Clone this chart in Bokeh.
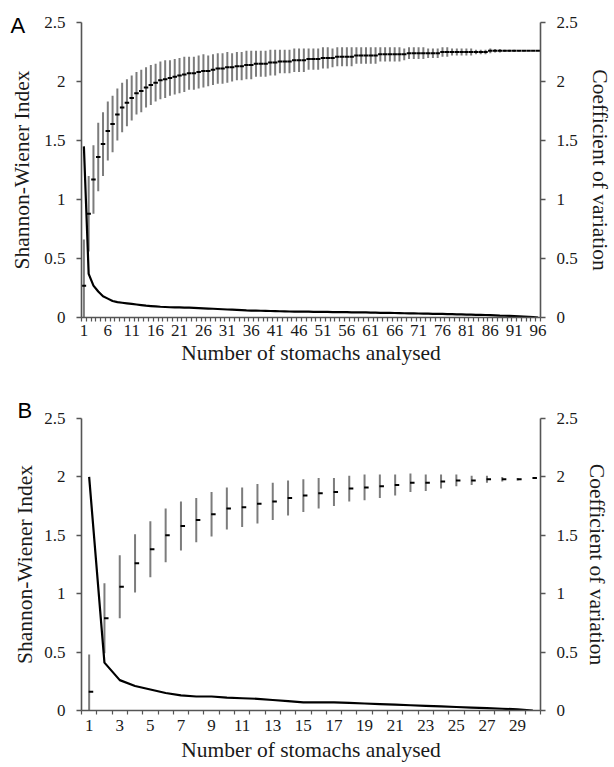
from bokeh.plotting import figure
from bokeh.models import LinearAxis, FixedTicker, Title, Range1d
from bokeh.layouts import column
from bokeh.transform import dodge
from bokeh.embed import file_html
from bokeh.resources import INLINE

# ---------------- Panel A data ----------------
a_stomachs = list(range(1, 97))
a_mean = [0.27, 0.88, 1.17, 1.36, 1.47, 1.58, 1.64, 1.72, 1.78, 1.82,
          1.86, 1.90, 1.92, 1.95, 1.97, 1.99, 2.01, 2.02, 2.03, 2.04,
          2.05, 2.06, 2.07, 2.07, 2.08, 2.09, 2.09, 2.10, 2.11, 2.11,
          2.12, 2.12, 2.13, 2.13, 2.14, 2.14, 2.15, 2.15, 2.15, 2.16,
          2.16, 2.17, 2.17, 2.17, 2.18, 2.18, 2.18, 2.19, 2.19, 2.19,
          2.20, 2.20, 2.20, 2.21, 2.21, 2.21, 2.21, 2.22, 2.22, 2.22,
          2.22, 2.22, 2.23, 2.23, 2.23, 2.23, 2.23, 2.23, 2.24, 2.24,
          2.24, 2.24, 2.24, 2.24, 2.24, 2.25, 2.25, 2.25, 2.25, 2.25,
          2.25, 2.25, 2.25, 2.25, 2.25, 2.26, 2.26, 2.26, 2.26, 2.26,
          2.26, 2.26, 2.26, 2.26, 2.26, 2.26]
a_sd = [0.39, 0.32, 0.29, 0.29, 0.27, 0.25, 0.24, 0.22, 0.21, 0.20,
        0.19, 0.18, 0.18, 0.17, 0.17, 0.16, 0.16, 0.16, 0.15, 0.15,
        0.15, 0.15, 0.14, 0.14, 0.14, 0.14, 0.13, 0.13, 0.13, 0.13,
        0.13, 0.12, 0.12, 0.12, 0.12, 0.12, 0.11, 0.11, 0.11, 0.11,
        0.11, 0.10, 0.10, 0.10, 0.10, 0.10, 0.10, 0.09, 0.09, 0.09,
        0.09, 0.09, 0.08, 0.08, 0.08, 0.08, 0.08, 0.07, 0.07, 0.07,
        0.07, 0.07, 0.06, 0.06, 0.06, 0.06, 0.06, 0.05, 0.05, 0.05,
        0.05, 0.05, 0.04, 0.04, 0.04, 0.04, 0.04, 0.03, 0.03, 0.03,
        0.03, 0.03, 0.02, 0.02, 0.02, 0.02, 0.015, 0.015, 0.01, 0.01,
        0.01, 0.005, 0.005, 0.0, 0.0, 0.0]
a_cv = [1.45, 0.37, 0.27, 0.22, 0.18, 0.16, 0.14, 0.13, 0.125, 0.12,
        0.115, 0.11, 0.105, 0.10, 0.097, 0.094, 0.091, 0.089, 0.087, 0.086,
        0.085, 0.084, 0.083, 0.082, 0.080, 0.078, 0.076, 0.074, 0.072, 0.070,
        0.068, 0.066, 0.064, 0.062, 0.060, 0.059, 0.058, 0.057, 0.056, 0.055,
        0.054, 0.053, 0.052, 0.051, 0.050, 0.050, 0.049, 0.049, 0.048, 0.048,
        0.047, 0.047, 0.046, 0.046, 0.045, 0.045, 0.044, 0.044, 0.043, 0.043,
        0.042, 0.041, 0.040, 0.040, 0.039, 0.038, 0.037, 0.036, 0.035, 0.035,
        0.034, 0.033, 0.032, 0.031, 0.030, 0.030, 0.029, 0.028, 0.027, 0.026,
        0.025, 0.024, 0.023, 0.022, 0.021, 0.020, 0.018, 0.016, 0.015, 0.013,
        0.011, 0.009, 0.007, 0.005, 0.003, 0.0]
a_tick_labels = list(range(1, 97, 5))

# ---------------- Panel B data ----------------
b_stomachs = list(range(1, 31))
b_mean = [0.16, 0.79, 1.06, 1.26, 1.38, 1.50, 1.58, 1.63, 1.68, 1.73,
          1.74, 1.77, 1.79, 1.82, 1.84, 1.86, 1.87, 1.90, 1.91, 1.92,
          1.93, 1.95, 1.95, 1.96, 1.97, 1.97, 1.98, 1.98, 1.98, 1.99]
b_sd = [0.32, 0.30, 0.27, 0.25, 0.24, 0.23, 0.21, 0.19, 0.19, 0.18,
        0.17, 0.17, 0.16, 0.15, 0.14, 0.13, 0.12, 0.11, 0.11, 0.10,
        0.09, 0.08, 0.07, 0.06, 0.05, 0.04, 0.03, 0.02, 0.01, 0.0]
b_cv = [2.0, 0.41, 0.26, 0.21, 0.18, 0.15, 0.13, 0.12, 0.12, 0.11,
        0.105, 0.10, 0.09, 0.08, 0.07, 0.07, 0.07, 0.065, 0.06, 0.055,
        0.05, 0.045, 0.04, 0.035, 0.03, 0.025, 0.02, 0.015, 0.01, 0.0]
b_tick_labels = list(range(1, 30, 2))

y_ticks = [0, 0.5, 1, 1.5, 2, 2.5]
y_tick_text = ["0", "0.5", "1", "1.5", "2", "2.5"]

SERIF = "Liberation Serif"
AXIS_COL = "#555555"
TEXT_COL = "#1a1a1a"
TICK_FS = "17px"
TITLE_FS = "21.5px"
W = 614


def style_y_axis(ax, standoff, title_standoff):
    ax.ticker = FixedTicker(ticks=y_ticks)
    ax.major_label_overrides = {float(t): s for t, s in zip(y_ticks, y_tick_text)}
    ax.axis_line_color = AXIS_COL
    ax.axis_line_width = 1.6
    ax.major_tick_line_color = AXIS_COL
    ax.major_tick_line_width = 1.4
    ax.major_tick_in = 0
    ax.major_tick_out = 5
    ax.minor_tick_line_color = None
    ax.major_label_standoff = standoff
    ax.axis_label_standoff = title_standoff
    ax.major_label_text_font = SERIF
    ax.major_label_text_font_size = TICK_FS
    ax.major_label_text_color = TEXT_COL
    ax.axis_label_text_font = SERIF
    ax.axis_label_text_font_size = TITLE_FS
    ax.axis_label_text_font_style = "normal"
    ax.axis_label_text_color = TEXT_COL


def letter_title(letter, offset, standoff):
    kw = dict(text=letter, align="left", offset=offset,
              text_font="Liberation Sans", text_font_size="22px",
              text_font_style="normal", text_color="black")
    try:
        return Title(standoff=standoff, **kw)
    except Exception:
        return Title(standoff=0, **kw)


def make_panel(cats, mean, sd, cv, xlabels, letter, height,
               f_left, f_right, f_top, f_bottom, mark_dx,
               lstand, lt_stand, rstand, rt_stand, xstand, xt_stand, xt_fs,
               letter_standoff):
    p = figure(width=W, height=height, output_backend="svg",
               toolbar_location=None,
               x_range=Range1d(cats[0] - 0.5, cats[-1] + 0.5),
               y_range=Range1d(0, 2.5),
               min_border_left=f_left, min_border_right=W - f_right,
               min_border_top=f_top, min_border_bottom=height - f_bottom)
    p.outline_line_color = None
    p.xgrid.visible = False
    p.ygrid.visible = False
    p.background_fill_color = "white"
    p.border_fill_color = "white"

    lo = [max(m - s, 0.0) for m, s in zip(mean, sd)]
    hi = [m + s for m, s in zip(mean, sd)]

    p.segment(x0=cats, y0=lo, x1=cats, y1=hi, line_color="#7c7c7c",
              line_width=2.0)
    p.line(cats, cv, line_color="black", line_width=2.2)
    p.scatter(x=dodge("x", mark_dx, range=p.x_range), y="y",
              source=dict(x=cats, y=mean), marker="dash", size=4.5,
              line_color="black", line_width=2, fill_color="black")

    # x axis
    xa = p.xaxis[0]
    bounds = [c - 0.5 for c in cats] + [cats[-1] + 0.5]
    xa.ticker = FixedTicker(ticks=xlabels, minor_ticks=bounds)
    xa.axis_label = "Number of stomachs analysed"
    xa.axis_line_color = AXIS_COL
    xa.axis_line_width = 1.6
    xa.major_tick_line_color = None
    xa.major_tick_in = 0
    xa.major_tick_out = 4
    xa.minor_tick_line_color = AXIS_COL
    xa.minor_tick_line_width = 1.2
    xa.minor_tick_in = 0
    xa.minor_tick_out = 4
    xa.major_label_standoff = xstand
    xa.axis_label_standoff = xt_stand
    xa.major_label_text_font = SERIF
    xa.major_label_text_font_size = TICK_FS
    xa.major_label_text_color = TEXT_COL
    xa.axis_label_text_font = SERIF
    xa.axis_label_text_font_size = xt_fs
    xa.axis_label_text_font_style = "normal"
    xa.axis_label_text_color = TEXT_COL

    ya = p.yaxis[0]
    ya.axis_label = "Shannon-Wiener Index"
    style_y_axis(ya, lstand, lt_stand)

    ra = LinearAxis(axis_label="Coefficient of variation")
    style_y_axis(ra, rstand, rt_stand)
    p.add_layout(ra, "right")

    # panel letter, placed over the left margin
    p.add_layout(letter_title(letter, 10 - f_left, letter_standoff), "above")
    return p


# panel A: frame 81..545 x 22..317, figure height 385
pa = make_panel(a_stomachs, a_mean, a_sd, a_cv, a_tick_labels, "A", 385,
                81, 545, 22, 317, 0.0,
                11, 7, 11, 7, 3, 2, TITLE_FS, -30)
# panel B: frame 74..549 x 33..325 (page 418..710), figure height 382
pb = make_panel(b_stomachs, b_mean, b_sd, b_cv, b_tick_labels, "B", 382,
                74, 549, 33, 325, 0.12,
                11, 4, 11, 4, 5, 4, TITLE_FS, -8)

layout = column(pa, pb, spacing=0)
open("out.html", "w").write(file_html(layout, INLINE))
